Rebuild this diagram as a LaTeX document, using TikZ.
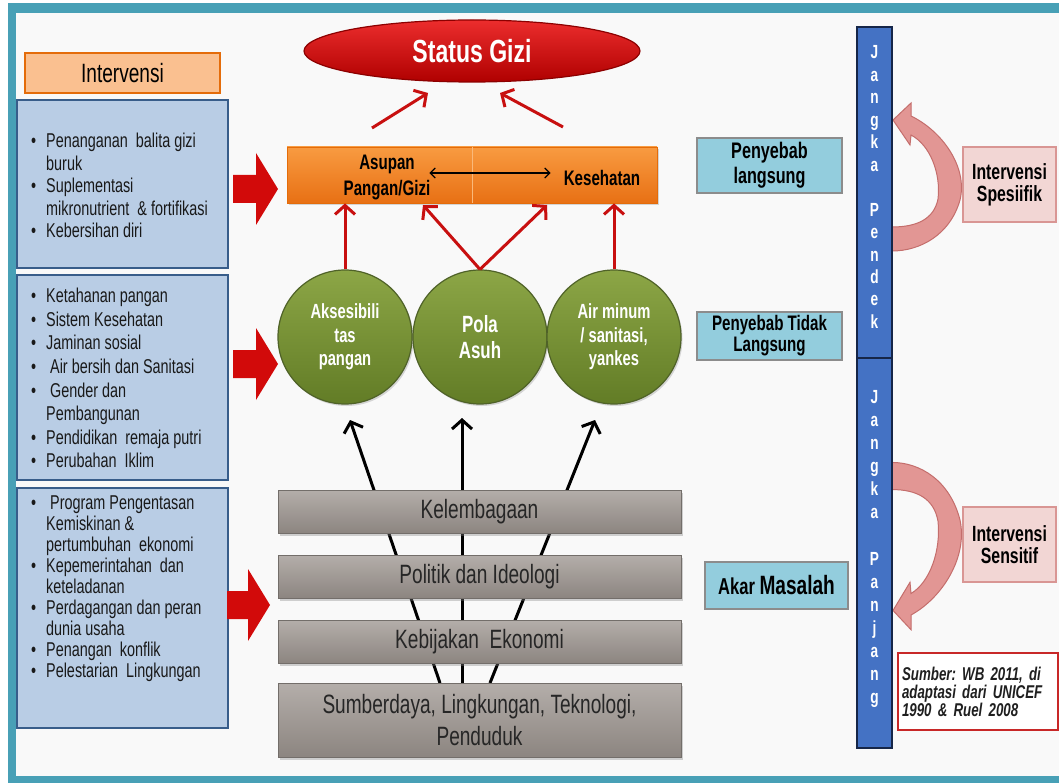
\documentclass[tikz,border=0pt]{standalone}
\usepackage{fontspec}
\setmainfont[FakeStretch=0.72]{Liberation Sans}
\usetikzlibrary{shapes.geometric,arrows.meta,shadows,calc}
\frenchspacing
\definecolor{frameC}{RGB}{72,160,182}
\definecolor{bgC}{RGB}{249,249,249}
\definecolor{blueFill}{RGB}{185,205,229}
\definecolor{blueLine}{RGB}{56,93,138}
\definecolor{peach}{RGB}{250,192,144}
\definecolor{orangeLine}{RGB}{228,108,10}
\definecolor{arrowRed}{RGB}{200,16,16}
\definecolor{blockRed}{RGB}{210,10,10}
\definecolor{ellTop}{RGB}{236,45,45}
\definecolor{ellBot}{RGB}{175,0,0}
\definecolor{ellLine}{RGB}{140,0,0}
\definecolor{orTop}{RGB}{248,155,65}
\definecolor{orBot}{RGB}{232,112,20}
\definecolor{greenTop}{RGB}{140,166,70}
\definecolor{greenBot}{RGB}{98,124,38}
\definecolor{greenLine}{RGB}{79,98,40}
\definecolor{grayTop}{RGB}{180,174,170}
\definecolor{grayBot}{RGB}{140,133,128}
\definecolor{grayLine}{RGB}{115,110,106}
\definecolor{grayText}{RGB}{38,38,38}
\definecolor{cyanFill}{RGB}{147,205,221}
\definecolor{cyanLine}{RGB}{140,140,140}
\definecolor{barFill}{RGB}{68,114,196}
\definecolor{barLine}{RGB}{22,38,72}
\definecolor{pinkFill}{RGB}{242,214,212}
\definecolor{pinkLine}{RGB}{217,150,148}
\definecolor{curveFill}{RGB}{226,150,148}
\definecolor{curveLine}{RGB}{196,110,108}
\definecolor{srcLine}{RGB}{200,40,40}
\newcommand\bulA{\makebox[15pt][l]{\textbullet}}
\newcommand\bulB{\hspace*{15pt}}
\tikzset{
  bluebox/.style={rectangle, draw=blueLine, line width=2pt, fill=blueFill, minimum width=211pt, inner sep=0pt},
  listtext/.style={anchor=north west, inner sep=0pt, align=left, text=black!90},
  hdrbox/.style={rectangle, draw=orangeLine, line width=2pt, fill=peach, minimum width=195pt, minimum height=40pt, inner sep=0pt, font=\fontsize{26.5}{26.5}\selectfont},
  redarrow/.style={draw=arrowRed, line width=3pt, -{Straight Barb[length=9pt,width=20pt]}},
  blackarrow/.style={draw=black, line width=3pt, -{Straight Barb[length=9pt,width=20pt]}},
  circ/.style={circle, minimum size=134pt, inner sep=0pt, top color=greenTop, bottom color=greenBot, draw=greenLine, line width=1.2pt, text=white, align=center, drop shadow={shadow xshift=1.5pt, shadow yshift=-2pt, opacity=0.3}},
  graybox/.style={rectangle, minimum width=403pt, inner sep=0pt, top color=grayTop, bottom color=grayBot, draw=grayLine, line width=0.8pt, text=grayText, align=center, font=\fontsize{26.5}{32}\selectfont, drop shadow={shadow xshift=1.5pt, shadow yshift=-2.5pt, opacity=0.35}},
  cyanbox/.style={rectangle, draw=cyanLine, line width=1.5pt, fill=cyanFill, minimum width=145pt, inner sep=0pt, align=center},
  barbox/.style={rectangle, draw=barLine, line width=2pt, fill=barFill, minimum width=35pt, inner sep=0pt},
  barletter/.style={anchor=base, inner sep=0pt, text=white, font=\bfseries\fontsize{19}{19}\selectfont},
  pinkbox/.style={rectangle, draw=pinkLine, line width=1.5pt, fill=pinkFill, minimum width=93pt, minimum height=75pt, inner sep=0pt, align=center, font=\bfseries\fontsize{22}{22}\selectfont},
  curvearrow/.style={fill=curveFill, draw=curveLine, line width=1pt},
  blockarrow/.style={fill=blockRed}
}
\begin{document}
\begin{tikzpicture}[x=1pt,y=-1pt]
\useasboundingbox (0,0) rectangle (1059,783);
\fill[white] (0,0) rectangle (1059,783);
\fill[bgC] (16,13) rectangle (1059,776);
% frame
\fill[frameC] (8,3) rectangle (1059,13);
\fill[frameC] (8,3) rectangle (16,783);
\fill[frameC] (8,776) rectangle (1059,783);

% header and intervention boxes
\node[hdrbox] (hdr) at (122.5,73) {Intervensi};
\node[bluebox, minimum height=168pt] (b1) at (122.5,184) {};
\node[bluebox, minimum height=205pt] (b2) at (122.5,377.5) {};
\node[bluebox, minimum height=240pt] (b3) at (122.5,608) {};

\node[listtext, font=\fontsize{20}{22.5}\selectfont] (t1) at (31,133) {%
\bulA Penanganan\ \ balita gizi\\
\bulB buruk\\
\bulA Suplementasi\\
\bulB mikronutrient\ \ \& fortifikasi\\
\bulA Kebersihan diri};
\node[listtext, font=\fontsize{20}{23.6}\selectfont] (t2) at (31,288) {%
\bulA Ketahanan pangan\\
\bulA Sistem Kesehatan\\
\bulA Jaminan sosial\\
\bulA \ Air bersih dan Sanitasi\\
\bulA \ Gender dan\\
\bulB Pembangunan\\
\bulA Pendidikan\ \ remaja putri\\
\bulA Perubahan\ \ Iklim};
\node[listtext, font=\fontsize{20}{20.9}\selectfont] (t3) at (31,496) {%
\bulA \ Program Pengentasan\\
\bulB Kemiskinan \&\\
\bulB pertumbuhan\ \ ekonomi\\
\bulA Kepemerintahan\ \ dan\\
\bulB keteladanan\\
\bulA Perdagangan dan peran\\
\bulB dunia usaha\\
\bulA Penangan\ \ konflik\\
\bulA Pelestarian\ \ Lingkungan};

% block arrows
\fill[blockarrow] (233,175) -- (256,175) -- (256,153) -- (278,189) -- (256,225) -- (256,203) -- (233,203) -- cycle;
\fill[blockarrow] (233,350) -- (256,350) -- (256,328) -- (278,364) -- (256,400) -- (256,378) -- (233,378) -- cycle;
\fill[blockarrow] (227,591) -- (248,591) -- (248,569) -- (270,605) -- (248,641) -- (248,619) -- (227,619) -- cycle;

% status gizi
\node[ellipse, minimum width=336pt, minimum height=62pt, top color=ellTop, bottom color=ellBot, draw=ellLine, line width=1.2pt, text=white, font=\bfseries\fontsize{32}{32}\selectfont] (status) at (472,51) {Status Gizi};

% orange box
\node[rectangle, minimum width=370pt, minimum height=56pt, inner sep=0pt, top color=orTop, bottom color=orBot, draw=orangeLine, line width=0.8pt, drop shadow={shadow xshift=1.5pt, shadow yshift=-2pt, opacity=0.3}] (gizi) at (472,175) {};
\draw[orTop!70!white, line width=0.8pt] (gizi.north) -- (gizi.south);
\node[inner sep=1pt, align=center, font=\bfseries\fontsize{21}{26}\selectfont] (asupan) at (387,178) {Asupan\\Pangan/Gizi};
\node[inner sep=1pt, font=\bfseries\fontsize{21}{26}\selectfont] (kes) at (602,178) {Kesehatan};
\draw[line width=1.2pt, {Straight Barb[length=5pt,width=10pt]}-{Straight Barb[length=5pt,width=10pt]}] ($(asupan.east)+(-2,-5)$) -- ($(kes.west)+(-12,-5)$);

% arrows to status
\coordinate (sa1) at (372,128); \coordinate (sa2) at (428,93);
\coordinate (sb1) at (563,127); \coordinate (sb2) at (500,93);
\draw[redarrow] (sa1) -- (sa2);
\draw[redarrow] (sb1) -- (sb2);

% black connectors (behind grey boxes)
\coordinate (bl0) at (440,683); \coordinate (bl1) at (350,420);
\coordinate (bm0) at (462,683); \coordinate (bm1) at (462,418);
\coordinate (br0) at (490,683); \coordinate (br1) at (595,420);
\draw[blackarrow] (bl0) -- (bl1);
\draw[blackarrow] (bm0) -- (bm1);
\draw[blackarrow] (br0) -- (br1);

% grey boxes
\node[graybox, minimum height=43pt] (g1) at (479.5,511.5) {Kelembagaan};
\node[graybox, minimum height=43pt] (g2) at (479.5,576.5) {Politik dan Ideologi};
\node[graybox, minimum height=43pt] (g3) at (479.5,641.5) {Kebijakan\ \ Ekonomi};
\node[graybox, minimum height=74pt] (g4) at (479.5,720) {Sumberdaya, Lingkungan, Teknologi,\\Penduduk};

% circles
\node[circ, font=\bfseries\fontsize{20.5}{23.5}\selectfont] (c1) at (345,337) {Aksesibili\\tas\\pangan};
\node[circ, font=\bfseries\fontsize{23.5}{26}\selectfont] (c2) at (480,337) {Pola\\Asuh};
\node[circ, font=\bfseries\fontsize{20.5}{23.5}\selectfont] (c3) at (614,337) {Air minum\\/ sanitasi,\\yankes};

% red arrows circles -> box
\coordinate (ma) at (423,205); \coordinate (mb) at (547,205);
\draw[redarrow] (c1.north) -- (c1.north |- gizi.south);
\draw[redarrow] (c2.north) -- (ma);
\draw[redarrow] (c2.north) -- (mb);
\draw[redarrow] (c3.north) -- (c3.north |- gizi.south);

% right side labels
\node[cyanbox, minimum height=55pt, font=\bfseries\fontsize{22.5}{25}\selectfont] (pl) at (769.5,165.5) {Penyebab\\langsung};
\node[cyanbox, minimum height=48pt, font=\bfseries\fontsize{21}{21}\selectfont] (ptl) at (769.5,336) {Penyebab Tidak\\Langsung};
\node[cyanbox, minimum width=143pt, minimum height=47pt, font=\bfseries\fontsize{23}{24}\selectfont] (am) at (776.5,585.5) {Akar {\fontsize{26.5}{26.5}\selectfont Masalah}};

% curved arrows
\begin{scope}[shift={(892,239)}]
\filldraw[curvearrow] (0,12) .. controls (28,12) and (58,-4) .. (68,-39) .. controls (76,-72) and (50,-108) .. (19,-123) -- (19,-136) -- (1,-119) -- (18,-94) -- (19,-104) .. controls (38,-94) and (49,-66) .. (46,-40) .. controls (42,-20) and (25,-12) .. (0,-12) -- cycle;
\end{scope}
\begin{scope}[shift={(892,476)}, yscale=-1.13]
\filldraw[curvearrow] (0,12) .. controls (28,12) and (58,-4) .. (68,-39) .. controls (76,-72) and (50,-108) .. (19,-123) -- (19,-136) -- (1,-119) -- (18,-94) -- (19,-104) .. controls (38,-94) and (49,-66) .. (46,-40) .. controls (42,-20) and (25,-12) .. (0,-12) -- cycle;
\end{scope}

% bar
\node[barbox, minimum height=331pt] (barTop) at (874.5,192.5) {};
\node[barbox, minimum height=390pt] (barBot) at (874.5,553) {};
\foreach \ch [count=\i from 0] in {J,a,n,g,k,a,{},P,e,n,d,e,k}
  \node[barletter] (lt\i) at (874.5,{59+22.45*\i}) {\ch};
\foreach \ch [count=\i from 0] in {J,a,n,g,k,a,{},P,a,n,j,a,n,g}
  \node[barletter] (lb\i) at (874.5,{403+23.15*\i}) {\ch};

% intervention type boxes
\node[pinkbox] (spes) at (1009.5,184.5) {Intervensi\\Spesiifik};
\node[pinkbox] (sens) at (1009.5,544.5) {Intervensi\\Sensitif};

% source
\node[rectangle, draw=srcLine, line width=1.5pt, fill=white, minimum width=160pt, minimum height=77pt, text width=152pt, inner xsep=4pt, inner ysep=0pt, align=left, text=black!88, font=\bfseries\itshape\fontsize{18.5}{18}\selectfont] (src) at (978,691.5) {Sumber: WB 2011, di\\adaptasi dari UNICEF\\1990 \& Ruel 2008};
\end{tikzpicture}
\end{document}
